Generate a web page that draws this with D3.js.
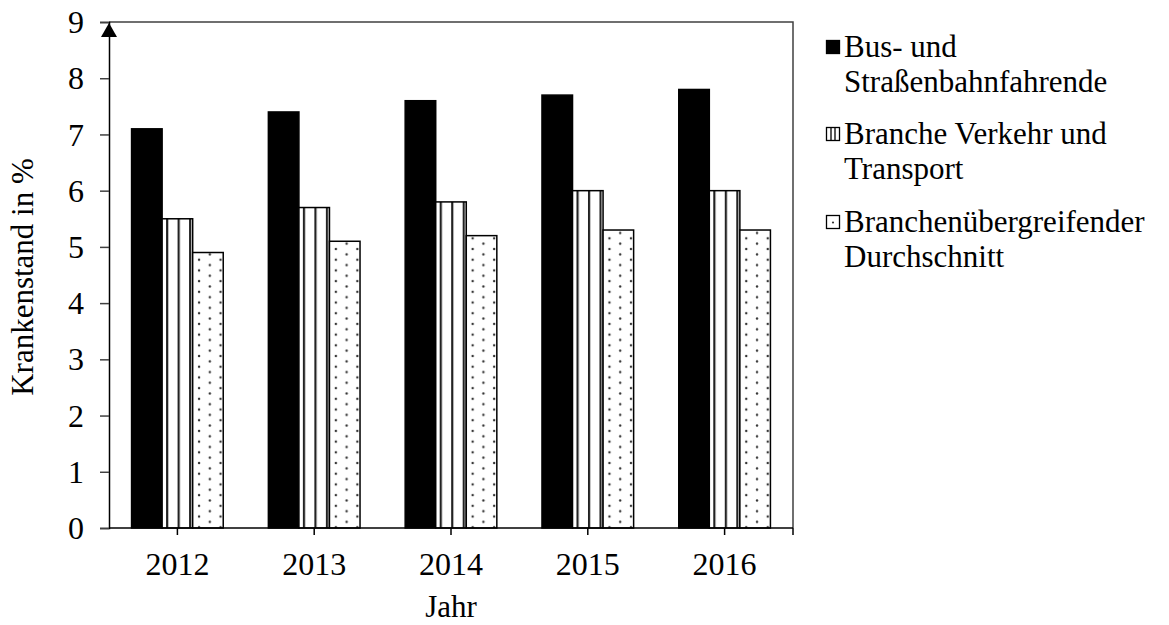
<!DOCTYPE html>
<html>
<head>
<meta charset="utf-8">
<script src="https://cdn.jsdelivr.net/npm/d3@7"></script>
<style>
  body { margin: 0; background: #fff; }
  text { font-family: "Liberation Serif", "Times New Roman", serif; fill: #000; }
</style>
</head>
<body>
<svg id="chart" width="1169" height="625"></svg>
<script>
const years = ["2012", "2013", "2014", "2015", "2016"];
const seriesNames = [
  ["Bus- und", "Straßenbahnfahrende"],
  ["Branche Verkehr und", "Transport"],
  ["Branchenübergreifender", "Durchschnitt"]
];
const busValues = [7.1, 7.4, 7.6, 7.7, 7.8];
const brancheValues = [5.5, 5.7, 5.8, 6.0, 6.0];
const avgValues = [4.9, 5.1, 5.2, 5.3, 5.3];
const yTicks = [0, 1, 2, 3, 4, 5, 6, 7, 8, 9];

const series = [busValues, brancheValues, avgValues];
const fills = ["#000", "url(#stripes)", "url(#dots)"];

const margin = { top: 22, right: 376, bottom: 97, left: 109 };
const width = 1169, height = 625;
const fontSize = "32px";

const svg = d3.select("#chart");

// fill patterns
const defs = svg.append("defs");
const stripes = defs.append("pattern")
  .attr("id", "stripes")
  .attr("patternUnits", "userSpaceOnUse")
  .attr("width", 11.5).attr("height", 10);
stripes.append("rect").attr("width", 11.5).attr("height", 10).attr("fill", "#fff");
stripes.append("rect").attr("x", 0).attr("width", 2.2).attr("height", 10).attr("fill", "#222");

const dots = defs.append("pattern")
  .attr("id", "dots")
  .attr("patternUnits", "userSpaceOnUse")
  .attr("width", 21.5).attr("height", 10.7);
dots.append("rect").attr("width", 21.5).attr("height", 10.7).attr("fill", "#fff");
dots.append("circle").attr("cx", 3).attr("cy", 3).attr("r", 1.2).attr("fill", "#333");
dots.append("circle").attr("cx", 13.75).attr("cy", 8.35).attr("r", 1.2).attr("fill", "#333");

const x0 = d3.scaleBand()
  .domain(years)
  .range([margin.left, width - margin.right])
  .paddingInner(0.33)
  .paddingOuter(0.165);

const x1 = d3.scaleBand()
  .domain(d3.range(series.length))
  .range([0, x0.bandwidth()]);

const y = d3.scaleLinear()
  .domain([0, 9])
  .range([height - margin.bottom, margin.top]);

const plotRight = width - margin.right;
const plotBottom = height - margin.bottom;

// frame top and right
svg.append("path")
  .attr("d", `M${margin.left},${margin.top}H${plotRight}V${plotBottom}`)
  .attr("fill", "none")
  .attr("stroke", "#404040")
  .attr("stroke-width", 1.5);

// bars
const groups = svg.append("g")
  .selectAll("g")
  .data(years)
  .join("g")
  .attr("transform", d => `translate(${x0(d)},0)`);

groups.selectAll("rect")
  .data((d, i) => series.map((s, k) => ({ k, v: s[i] })))
  .join("rect")
  .attr("x", d => x1(d.k))
  .attr("width", x1.bandwidth())
  .attr("y", d => y(d.v))
  .attr("height", d => plotBottom - y(d.v))
  .attr("fill", d => fills[d.k])
  .attr("stroke", "#000")
  .attr("stroke-width", 1.5);

// y axis
const yAxis = svg.append("g")
  .attr("transform", `translate(${margin.left},0)`)
  .call(d3.axisLeft(y).tickValues(yTicks).tickSize(9).tickPadding(16).tickFormat(d3.format("d")));
yAxis.select(".domain").attr("stroke", "#000").attr("stroke-width", 1.5);
yAxis.selectAll(".tick line").attr("stroke", "#404040").attr("stroke-width", 1.5);
yAxis.selectAll(".tick text").style("font-size", fontSize).attr("dy", "0.33em");

// arrow at the top of the y axis
svg.append("path")
  .attr("d", `M${margin.left},${margin.top + 1}L${margin.left - 8},${margin.top + 15}L${margin.left + 8},${margin.top + 15}Z`)
  .attr("fill", "#000");

// x axis
const xAxis = svg.append("g")
  .attr("transform", `translate(0,${plotBottom})`)
  .call(d3.axisBottom(x0).tickSize(7).tickPadding(17));
xAxis.select(".domain").attr("stroke", "#000").attr("stroke-width", 1.5)
  .attr("d", `M${margin.left},0H${plotRight}`);
xAxis.selectAll(".tick line").attr("stroke", "#000").attr("stroke-width", 1.5);
xAxis.selectAll(".tick text").style("font-size", fontSize);
xAxis.append("line")
  .attr("x1", plotRight).attr("x2", plotRight)
  .attr("y1", 0).attr("y2", 7)
  .attr("stroke", "#000").attr("stroke-width", 1.5);

// axis titles
svg.append("text")
  .attr("x", (margin.left + plotRight) / 2).attr("y", 617)
  .attr("text-anchor", "middle")
  .style("font-size", "31px")
  .text("Jahr");

svg.append("text")
  .attr("transform", "translate(33,277) rotate(-90)")
  .attr("text-anchor", "middle")
  .style("font-size", "31px")
  .text("Krankenstand in %");

// legend
const legend = svg.append("g").attr("transform", "translate(826,0)");
const legendY = [47, 134, 222];
seriesNames.forEach((lines, k) => {
  const g = legend.append("g").attr("transform", `translate(0,${legendY[k]})`);
  g.append("rect")
    .attr("x", 0.5).attr("y", -6.5)
    .attr("width", 13).attr("height", 13)
    .attr("fill", k === 0 ? "#000" : "#fff")
    .attr("stroke", "#000").attr("stroke-width", 1.3);
  if (k === 1) {
    [5, 9].forEach(px => g.append("line")
      .attr("x1", px).attr("x2", px).attr("y1", -6).attr("y2", 6)
      .attr("stroke", "#000").attr("stroke-width", 1.3));
  }
  if (k === 2) {
    g.append("circle").attr("cx", 7).attr("cy", 0.5).attr("r", 1.1).attr("fill", "#333");
  }
  lines.forEach((t, j) => {
    g.append("text")
      .attr("x", 18).attr("y", j * 35)
      .attr("dy", "0.33em")
      .style("font-size", "31px")
      .text(t);
  });
});
</script>
</body>
</html>
